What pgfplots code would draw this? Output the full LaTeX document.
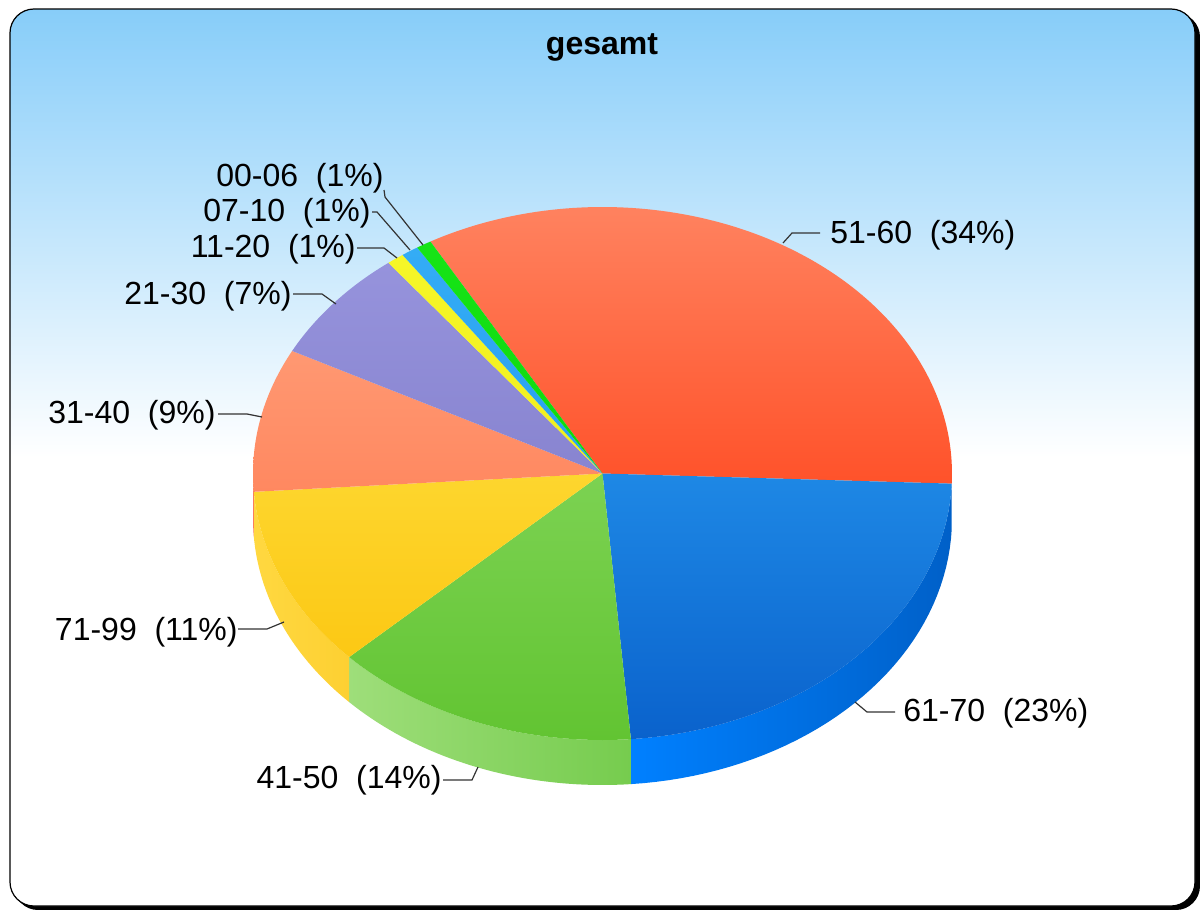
\documentclass[border=0pt]{standalone}
\usepackage{pgfplots}
\pgfplotsset{compat=1.18}
\usepackage{pgfplotstable}
\usepackage{fontspec}
\setmainfont{Liberation Sans}

\definecolor{bgtop}{RGB}{135,205,249}
% top faces (top / bottom of gradient)
\definecolor{c1t}{RGB}{255,130,95}\definecolor{c1b}{RGB}{255,82,42}   % 51-60
\definecolor{c2t}{RGB}{30,136,229}\definecolor{c2b}{RGB}{10,98,204}   % 61-70
\definecolor{c3t}{RGB}{124,210,82}\definecolor{c3b}{RGB}{98,196,50}   % 41-50
\definecolor{c4t}{RGB}{253,214,46}\definecolor{c4b}{RGB}{252,200,20}  % 71-99
\definecolor{c5t}{RGB}{255,152,114}\definecolor{c5b}{RGB}{255,136,96} % 31-40
\definecolor{c6t}{RGB}{150,147,220}\definecolor{c6b}{RGB}{136,132,208}% 21-30
\definecolor{c7t}{RGB}{246,246,40}\definecolor{c7b}{RGB}{240,238,30}  % 11-20
\definecolor{c8t}{RGB}{52,172,245}\definecolor{c8b}{RGB}{40,160,240}  % 07-10
\definecolor{c9t}{RGB}{22,228,22}\definecolor{c9b}{RGB}{15,215,15}    % 00-06
% side faces (left / right of gradient)
\definecolor{s1l}{RGB}{245,85,45}\definecolor{s1r}{RGB}{235,72,35}
\definecolor{s2l}{RGB}{0,128,255}\definecolor{s2r}{RGB}{0,96,200}
\definecolor{s3l}{RGB}{158,222,122}\definecolor{s3r}{RGB}{118,204,78}
\definecolor{s4l}{RGB}{255,216,64}\definecolor{s4r}{RGB}{253,208,50}
\definecolor{s5l}{RGB}{250,125,92}\definecolor{s5r}{RGB}{250,125,92}

% shares in percent, in drawing order (clockwise from the start angle)
\pgfplotstableread{
label value
51-60 33.8
61-70 23.1
41-50 14.2
71-99 11.0
31-40 8.7
21-30 6.9
11-20 0.8
07-10 0.8
00-06 0.7
}\piedata

\def\cx{602.5}\def\cy{473.5}\def\rx{349.5}\def\ry{266.5}\def\depth{45}
\def\startangle{119.5}

% cumulative angles
\pgfmathsetmacro\cum{\startangle}
\expandafter\xdef\csname ang0\endcsname{\cum}
\pgfplotsforeachungrouped \i in {0,...,8}{%
  \pgfplotstablegetelem{\i}{value}\of\piedata
  \pgfmathsetmacro\cum{\cum-3.6*\pgfplotsretval}%
  \pgfmathtruncatemacro\j{\i+1}%
  \expandafter\xdef\csname ang\j\endcsname{\cum}%
}
\newcommand\ang[1]{\csname ang#1\endcsname}

\newcommand\topslice[3]{%
  \pgfmathtruncatemacro\nexti{#1+1}%
  \edef\temp{\noexpand\addplot[draw=none, top color=#2, bottom color=#3,
    domain=\ang{\nexti}:\ang{#1}, samples=100]
    ({\cx+\rx*cos(x)},{\cy-\ry*sin(x)}) -- (axis cs:\cx,\cy) -- cycle;}%
  \temp}

\newcommand\sideslice[3]{%
  \pgfmathtruncatemacro\nexti{#1+1}%
  \pgfmathsetmacro\sa{min(\ang{#1},0)}%
  \pgfmathsetmacro\sb{max(\ang{\nexti},-180)}%
  \edef\temp{\noexpand\addplot[draw=none, left color=#2, right color=#3,
    domain=0:3, samples=121]
    ({\cx+\rx*cos((\sa)+((\sb)-(\sa))*min(1,x,3-x))},
     {\cy-\ry*sin((\sa)+((\sb)-(\sa))*min(1,x,3-x))+\depth*min(1,max(0,x-1))}) -- cycle;}%
  \temp}

\newcommand\lbl{\fontsize{16}{19}\selectfont}

\begin{document}
\begin{tikzpicture}
\begin{axis}[
  x=0.5pt, y=0.5pt, y dir=reverse,
  xmin=0, xmax=1200, ymin=0, ymax=910,
  hide axis, clip=false,
  at={(0,0)}, anchor=south west,
]
% full canvas (for the bounding box)
\path (axis cs:0,0) rectangle (axis cs:1200,910);
% background
\fill[black, rounded corners=12pt] (axis cs:14,13) rectangle (axis cs:1200,910);
\path[draw=black, line width=0.6pt, rounded corners=12pt,
  top color=bgtop, bottom color=white, middle color=white]
  (axis cs:10,9) rectangle (axis cs:1195,906);

% title
\node[font=\lbl\bfseries, inner sep=0] at (axis cs:602,47) {gesamt};

% side faces
\sideslice{0}{s1l}{s1r}
\sideslice{1}{s2l}{s2r}
\sideslice{2}{s3l}{s3r}
\sideslice{3}{s4l}{s4r}
\sideslice{4}{s5l}{s5r}

% top faces
\topslice{0}{c1t}{c1b}
\topslice{1}{c2t}{c2b}
\topslice{2}{c3t}{c3b}
\topslice{3}{c4t}{c4b}
\topslice{4}{c5t}{c5b}
\topslice{5}{c6t}{c6b}
\topslice{6}{c7t}{c7b}
\topslice{7}{c8t}{c8b}
\topslice{8}{c9t}{c9b}

% leader lines
\begin{scope}[draw=black!80, line width=0.6pt]
\draw (axis cs:384,190) -- (axis cs:385,197) -- (axis cs:423,245);
\draw (axis cs:372,212) -- (axis cs:377,212) -- (axis cs:410,250);
\draw (axis cs:357,248) -- (axis cs:384,248) -- (axis cs:397,258);
\draw (axis cs:293,294) -- (axis cs:322,294) -- (axis cs:336,304);
\draw (axis cs:218,414) -- (axis cs:247,414) -- (axis cs:262,417);
\draw (axis cs:238,629) -- (axis cs:267,629) -- (axis cs:284,622);
\draw (axis cs:443,780) -- (axis cs:472,780) -- (axis cs:478,767);
\draw (axis cs:820,233) -- (axis cs:792,233) -- (axis cs:783,243);
\draw (axis cs:895,712) -- (axis cs:867,712) -- (axis cs:855,702);
\end{scope}

% labels
\node[anchor=east, inner sep=0, font=\lbl] at (axis cs:384,178) {00-06~~(1\%)};
\node[anchor=east, inner sep=0, font=\lbl] at (axis cs:371,213) {07-10~~(1\%)};
\node[anchor=east, inner sep=0, font=\lbl] at (axis cs:356,249) {11-20~~(1\%)};
\node[anchor=east, inner sep=0, font=\lbl] at (axis cs:292,296) {21-30~~(7\%)};
\node[anchor=east, inner sep=0, font=\lbl] at (axis cs:216,415) {31-40~~(9\%)};
\node[anchor=east, inner sep=0, font=\lbl] at (axis cs:238,632) {71-99~~(11\%)};
\node[anchor=east, inner sep=0, font=\lbl] at (axis cs:442,780) {41-50~~(14\%)};
\node[anchor=west, inner sep=0, font=\lbl] at (axis cs:830,235) {51-60~~(34\%)};
\node[anchor=west, inner sep=0, font=\lbl] at (axis cs:903,713) {61-70~~(23\%)};
\end{axis}
\end{tikzpicture}
\end{document}
